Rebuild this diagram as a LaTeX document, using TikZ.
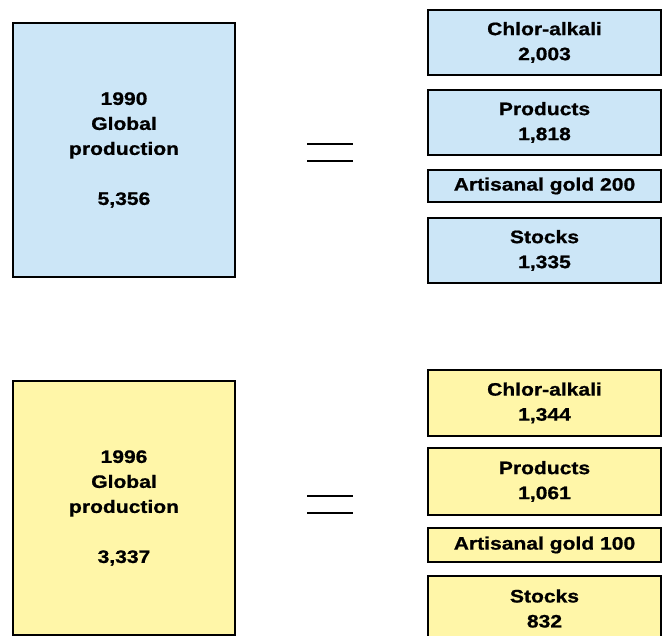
\documentclass[tikz,border=0pt]{standalone}
\usepackage{fontspec}
\setmainfont{Liberation Sans}[FakeStretch=1.17, BoldFeatures={FakeBold=0.9}]
\definecolor{paleblue}{HTML}{CCE6F7}
\definecolor{paleyellow}{HTML}{FFF6A8}
\tikzset{
  box/.style={draw=black, line width=1.6pt, inner sep=0pt, align=center,
    font=\fontsize{18}{25}\selectfont\bfseries},
  bluebox/.style={box, fill=paleblue},
  yellowbox/.style={box, fill=paleyellow},
  part/.style={minimum width=233pt},
  total/.style={minimum width=222pt, minimum height=254pt},
  eqline/.style={line width=2.2pt}
}
\begin{document}
\begin{tikzpicture}[x=1pt, y=-1pt]
\useasboundingbox (0,0) rectangle (662,636);
\clip (0,0) rectangle (662,636);

% 1990 breakdown
\node[bluebox, total] (g90) at (124,150) {1990\\Global\\production\\[25pt]5,356};
\node[bluebox, part, minimum height=65pt] (ca90) at (544.5,42.5) {Chlor-alkali\\2,003};
\node[bluebox, part, minimum height=65pt] (pr90) at (544.5,122.5) {Products\\1,818};
\node[bluebox, part, minimum height=32pt] (ag90) at (544.5,186) {Artisanal gold 200};
\node[bluebox, part, minimum height=65pt] (st90) at (544.5,250.5) {Stocks\\1,335};
\draw[eqline] (307,144) -- (353,144);
\draw[eqline] (307,161) -- (353,161);

% 1996 breakdown
\node[yellowbox, total] (g96) at (124,508) {1996\\Global\\production\\[25pt]3,337};
\node[yellowbox, part, minimum height=66pt] (ca96) at (544.5,403) {Chlor-alkali\\1,344};
\node[yellowbox, part, minimum height=67pt] (pr96) at (544.5,481.5) {Products\\1,061};
\node[yellowbox, part, minimum height=34pt] (ag96) at (544.5,545) {Artisanal gold 100};
\node[yellowbox, part, minimum height=65pt] (st96) at (544.5,608.5) {Stocks\\832};
\draw[eqline] (307,496) -- (353,496);
\draw[eqline] (307,513) -- (353,513);
\end{tikzpicture}
\end{document}
